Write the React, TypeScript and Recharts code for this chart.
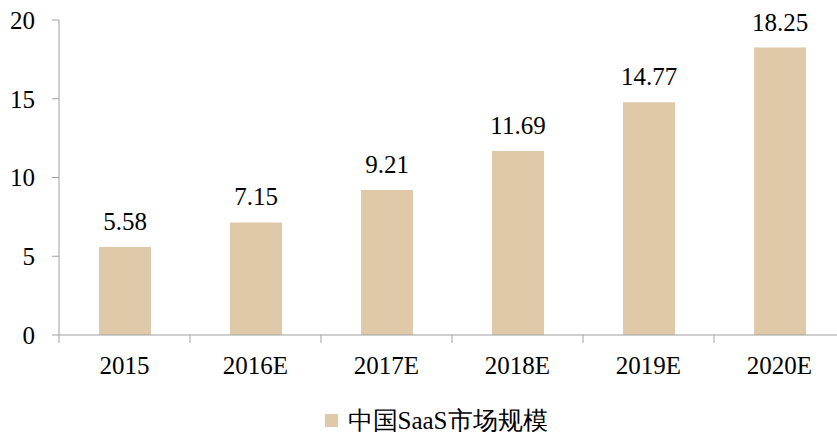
import React from 'react';
import { BarChart, Bar, XAxis, YAxis, Legend, LabelList } from 'recharts';

const categories = ['2015', '2016E', '2017E', '2018E', '2019E', '2020E'];
const marketSize = [5.58, 7.15, 9.21, 11.69, 14.77, 18.25];
const yTicks = [0, 5, 10, 15, 20];
const seriesName = '中国SaaS市场规模';

const data = categories.map((c, i) => ({ category: c, value: marketSize[i] }));

const FONT = 'Liberation Serif, Times New Roman, DejaVu Serif, serif';
const AXIS = '#A0A0A0';
const BAR = '#DFC9A8';

const CatTick = (props: any) => {
  const { x, y, payload, index, visibleTicksCount } = props;
  const half = payload && payload.offset ? payload.offset : 0;
  const isLast = index === visibleTicksCount - 1;
  return (
    <g>
      <line x1={x - half} x2={x - half} y1={y - 21} y2={y - 13} stroke={AXIS} />
      {isLast && <line x1={x + half} x2={x + half} y1={y - 21} y2={y - 13} stroke={AXIS} />}
      <text x={x} y={y} dy="0.71em" textAnchor="middle" fill="#000" fontSize={25} fontFamily={FONT}>
        {payload.value}
      </text>
    </g>
  );
};

const LegendContent = (props: any) => {
  const items = props.payload || [];
  return (
    <div style={{ textAlign: 'center', fontFamily: FONT, fontSize: 25, color: '#000', lineHeight: '30px', paddingLeft: 27 }}>
      {items.map((it: any, i: number) => (
        <span key={i} style={{ display: 'inline-flex', alignItems: 'center' }}>
          <span style={{ display: 'inline-block', width: 13, height: 13, background: it.color, marginRight: 10 }} />
          <span>{it.value}</span>
        </span>
      ))}
    </div>
  );
};

export default function App() {
  return (
    <div style={{ position: 'absolute', left: 0, top: 0, width: 837, height: 432, overflow: 'hidden', background: '#fff', fontFamily: FONT }}>
      <BarChart
        width={850}
        height={432}
        data={data}
        margin={{ top: 20, right: 5, left: 0, bottom: 5 }}
      >
        <XAxis
          dataKey="category"
          tickSize={0}
          tickMargin={21}
          axisLine={{ stroke: AXIS }}
          tickLine={false}
          height={50}
          tick={<CatTick />}
          interval={0}
        />
        <YAxis
          domain={[0, 20]}
          ticks={yTicks}
          width={59}
          tickSize={7}
          tickMargin={17}
          axisLine={{ stroke: AXIS }}
          tickLine={{ stroke: AXIS }}
          tick={{ fill: '#000', fontSize: 25, fontFamily: FONT }}
          interval={0}
        />
        <Legend
          verticalAlign="bottom"
          align="center"
          height={42}
          content={<LegendContent />}
          wrapperStyle={{ top: 404, bottom: 'auto' }}
        />
        <Bar
          dataKey="value"
          name={seriesName}
          fill={BAR}
          barSize={52}
          isAnimationActive={false}
        >
          <LabelList dataKey="value" position="top" offset={17} fill="#000" fontSize={25} fontFamily={FONT} formatter={(v: number) => v.toFixed(2)} />
        </Bar>
      </BarChart>
    </div>
  );
}
